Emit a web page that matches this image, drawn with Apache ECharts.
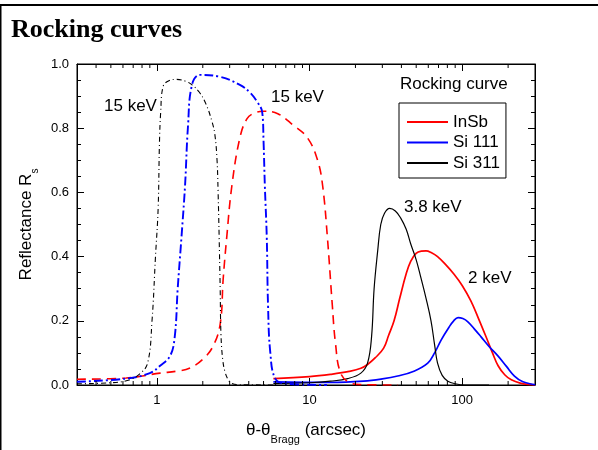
<!DOCTYPE html>
<html>
<head>
<meta charset="utf-8">
<style>
  html, body { margin: 0; padding: 0; background: #fff; }
  #chart { width: 598px; height: 450px; }
</style>
<script src="https://cdn.jsdelivr.net/npm/echarts@6/dist/echarts.min.js"></script>
</head>
<body>
<div id="chart"></div>
<script>
// rocking curves, reflectance vs. theta - theta_Bragg (arcsec)
const legendNames = ['InSb', 'Si 111', 'Si 311']
const minorXTicks = [0.4, 0.5, 0.6, 0.7, 0.8, 0.9, 2, 3, 4, 5, 6, 7, 8, 9, 20, 30, 40, 50, 60, 70, 80, 90, 200]

// 2 keV / 3.8 keV (solid)
const insbLow = [
  [5.8, 0.02], [10, 0.026], [13.7, 0.033], [18.6, 0.043], [21.7, 0.052], [24, 0.064],
  [27, 0.085], [30.6, 0.115], [33, 0.155], [35.8, 0.2], [39, 0.27], [42.9, 0.345],
  [46, 0.385], [49.9, 0.41], [54, 0.417], [58, 0.418], [63, 0.412], [69, 0.4],
  [78, 0.375], [88.5, 0.345], [100, 0.31], [114, 0.262], [128, 0.207], [144, 0.148],
  [158, 0.1], [172, 0.06], [190, 0.032], [210, 0.016], [240, 0.006], [283, 0.001], [300, 0]
]
const si111Low = [
  [5.8, 0.01], [13.7, 0.008], [22.6, 0.012], [30, 0.019], [37.8, 0.028], [48.3, 0.043],
  [59.5, 0.068], [66, 0.1], [72.8, 0.14], [82, 0.18], [88, 0.2], [94, 0.21], [101, 0.207],
  [109, 0.197], [120, 0.175], [133, 0.15], [150, 0.12], [172, 0.09], [195, 0.058],
  [220, 0.028], [250, 0.01], [297, 0.001], [300, 0]
]
const si311Low = [
  [5.8, 0.004], [10, 0.007], [13.7, 0.012], [17.8, 0.02], [21.7, 0.037], [24, 0.068],
  [25.5, 0.15], [26.5, 0.3], [28, 0.42], [29.3, 0.5], [31, 0.535], [33.5, 0.55],
  [36.5, 0.542], [39.6, 0.52], [43, 0.485], [46, 0.44], [50, 0.39], [53.6, 0.335],
  [58, 0.27], [62.5, 0.2], [66, 0.125], [69, 0.068], [74, 0.03], [80.6, 0.012],
  [90, 0.004], [104, 0.0], [150, 0]
]

// 15 keV (dashed / dash-dot)
const insbHigh = [
  [0.3, 0.018], [0.63, 0.022], [1.05, 0.037], [1.35, 0.043], [1.65, 0.053], [2.0, 0.08],
  [2.33, 0.12], [2.6, 0.19], [2.72, 0.33], [2.87, 0.46], [3.1, 0.62], [3.5, 0.77],
  [3.9, 0.83], [4.4, 0.848], [5.0, 0.853], [6.2, 0.845], [7.8, 0.81], [9.7, 0.77],
  [11.3, 0.7], [12.2, 0.62], [13.1, 0.46], [14.1, 0.25], [14.8, 0.13], [16, 0.037],
  [18.6, 0.006], [22, 0.001], [38, 0]
]
const si111High = [
  [0.3, 0.01], [0.63, 0.02], [0.9, 0.037], [1.05, 0.06], [1.22, 0.09], [1.31, 0.15],
  [1.37, 0.3], [1.45, 0.46], [1.53, 0.62], [1.6, 0.806], [1.7, 0.935], [1.92, 0.966],
  [2.6, 0.96], [3.5, 0.935], [4.1, 0.91], [4.5, 0.885], [4.9, 0.85], [5.0, 0.76],
  [5.1, 0.62], [5.25, 0.46], [5.35, 0.25], [5.54, 0.1], [5.97, 0.02], [7, 0.004], [13, 0]
]
const si311High = [
  [0.3, 0.004], [0.5, 0.007], [0.65, 0.015], [0.77, 0.034], [0.87, 0.068], [0.93, 0.2],
  [0.98, 0.4], [1.02, 0.55], [1.04, 0.75], [1.06, 0.85], [1.1, 0.93], [1.2, 0.948],
  [1.35, 0.952], [1.55, 0.946], [1.7, 0.935], [1.9, 0.912], [2.1, 0.875], [2.3, 0.82],
  [2.4, 0.78], [2.48, 0.7], [2.52, 0.6], [2.56, 0.46], [2.6, 0.3], [2.63, 0.16],
  [2.7, 0.08], [2.8, 0.04], [2.95, 0.015], [3.1, 0.005], [3.5, 0.001], [6, 0]
]

const chart = echarts.init(document.getElementById('chart'))
const font = 'Liberation Sans, Arial, sans-serif'

function axisX(pos) {
  return {
    type: 'log',
    position: pos,
    min: 0.3,
    max: 300,
    logBase: 10,
    axisLine: { show: true, onZero: false, lineStyle: { color: '#000', width: 1 } },
    axisTick: { show: true, inside: true, length: 7, lineStyle: { color: '#000' } },
    axisLabel: {
      show: pos === 'bottom',
      showMinLabel: false,
      showMaxLabel: false,
      color: '#000',
      fontFamily: font,
      fontSize: 13,
      margin: 9
    },
    splitLine: { show: false }
  }
}

function axisY(pos) {
  return {
    type: 'value',
    position: pos,
    min: 0,
    max: 1,
    interval: 0.2,
    axisLine: { show: true, onZero: false, lineStyle: { color: '#000', width: 1 } },
    axisTick: { show: true, inside: true, length: 7, lineStyle: { color: '#000' } },
    minorTick: { show: true, splitNumber: 4, length: 4, lineStyle: { color: '#000' } },
    axisLabel: {
      show: pos === 'left',
      color: '#000',
      fontFamily: font,
      fontSize: 13,
      margin: 8,
      formatter: v => v.toFixed(1)
    },
    splitLine: { show: false }
  }
}

const xBottom = axisX('bottom')
xBottom.name = '{a|θ-θ}{sub|Bragg}{a| (arcsec)}'
xBottom.nameLocation = 'middle'
xBottom.nameGap = 37
xBottom.nameTextStyle = {
  rich: {
    a: { fontFamily: font, fontSize: 17, color: '#000', lineHeight: 22, verticalAlign: 'top' },
    sub: { fontFamily: font, fontSize: 11, color: '#000', lineHeight: 12, verticalAlign: 'top', padding: [12, 0, 0, 0] }
  }
}
const yLeft = axisY('left')
yLeft.name = '{a|Reflectance R}{sub|s}'
yLeft.nameLocation = 'middle'
yLeft.nameGap = 34
yLeft.nameTextStyle = {
  rich: {
    a: { fontFamily: font, fontSize: 17, color: '#000', lineHeight: 22, verticalAlign: 'top' },
    sub: { fontFamily: font, fontSize: 10, color: '#000', lineHeight: 11, verticalAlign: 'top', padding: [12, 0, 0, 0] }
  }
}

function line(name, data, color, width, type) {
  return {
    name: name,
    type: 'line',
    xAxisIndex: 0,
    yAxisIndex: 0,
    data: data,
    symbol: 'none',
    smooth: 0.4,
    animation: false,
    lineStyle: { color: color, width: width, type: type },
    itemStyle: { color: color }
  }
}

chart.setOption({
  animation: false,
  grid: { left: 77, right: 63, top: 64, bottom: 61, show: true, borderColor: '#000', borderWidth: 1, backgroundColor: 'transparent' },
  title: {
    text: 'Rocking curves',
    left: 6,
    top: 12,
    textStyle: { fontFamily: 'Liberation Serif, Times New Roman, serif', fontWeight: 'bold', fontSize: 26, color: '#000' }
  },
  legend: {
    data: legendNames,
    orient: 'vertical',
    left: 399,
    top: 103,
    padding: [10, 6, 6, 8],
    itemGap: 2.5,
    itemWidth: 41,
    itemHeight: 2,
    icon: 'rect',
    borderColor: '#000',
    borderWidth: 1,
    borderRadius: 0,
    textStyle: { fontFamily: font, fontSize: 17, lineHeight: 18, color: '#000' }
  },
  xAxis: [xBottom, axisX('top')],
  yAxis: [yLeft, axisY('right')],
  graphic: [
    { type: 'rect', shape: { x: 0, y: 4, width: 598, height: 2 }, style: { fill: '#000' } },
    { type: 'rect', shape: { x: 0, y: 4, width: 1.5, height: 446 }, style: { fill: '#000' } },
    { type: 'text', left: 400, top: 76, style: { text: 'Rocking curve', font: '17px ' + font, fill: '#000' } },
    { type: 'text', left: 104, top: 98, style: { text: '15 keV', font: '17px ' + font, fill: '#000' } },
    { type: 'text', left: 271, top: 89, style: { text: '15 keV', font: '17px ' + font, fill: '#000' } },
    { type: 'text', left: 404, top: 199, style: { text: '3.8 keV', font: '17px ' + font, fill: '#000' } },
    { type: 'text', left: 468, top: 270, style: { text: '2 keV', font: '17px ' + font, fill: '#000' } }
  ],
  series: [
    line('InSb', insbLow, '#ff0000', 1.7, 'solid'),
    line('Si 111', si111Low, '#0000ff', 1.7, 'solid'),
    line('Si 311', si311Low, '#000000', 1.2, 'solid'),
    line('InSb 15 keV', insbHigh, '#ff0000', 1.6, [9, 6]),
    line('Si 111 15 keV', si111High, '#0000ff', 1.9, [9, 3, 2, 3]),
    line('Si 311 15 keV', si311High, '#000000', 1.1, [5, 3, 1, 3]),
    {
      // keeps the mirrored top/right axes attached to a series
      name: 'frame',
      type: 'line',
      xAxisIndex: 1,
      yAxisIndex: 1,
      data: [[1, 0]],
      symbol: 'none',
      silent: true,
      lineStyle: { opacity: 0 }
    },
    {
      name: 'minor ticks',
      type: 'custom',
      xAxisIndex: 0,
      yAxisIndex: 0,
      silent: true,
      z: 5,
      data: minorXTicks.map(v => [v, 0]),
      renderItem: function (params, api) {
        const b = api.coord([api.value(0), 0])
        const t = api.coord([api.value(0), 1])
        const st = { stroke: '#000', lineWidth: 1 }
        return {
          type: 'group',
          children: [
            { type: 'line', shape: { x1: b[0], y1: b[1], x2: b[0], y2: b[1] - 4 }, style: st },
            { type: 'line', shape: { x1: t[0], y1: t[1], x2: t[0], y2: t[1] + 4 }, style: st }
          ]
        }
      }
    }
  ]
})
</script>
</body>
</html>
